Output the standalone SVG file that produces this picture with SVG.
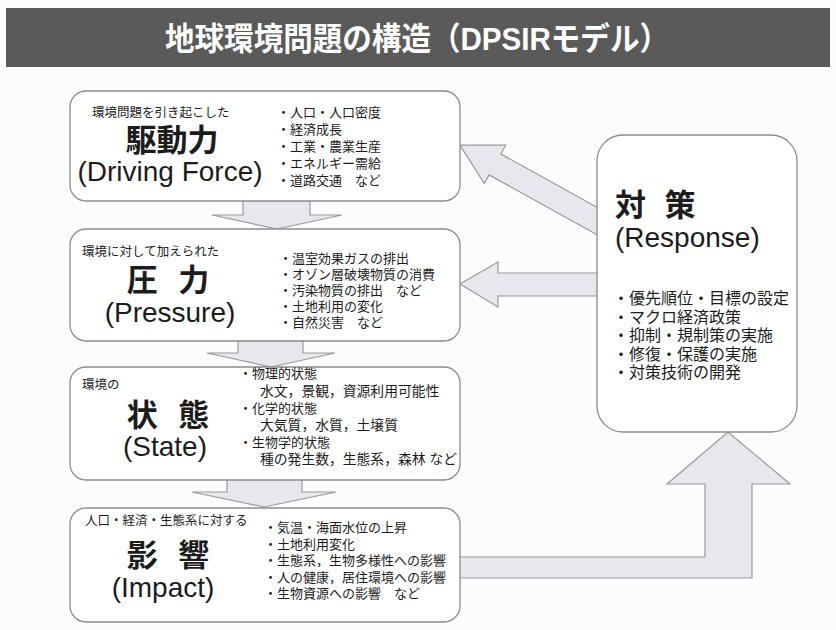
<svg xmlns="http://www.w3.org/2000/svg" width="836" height="630" viewBox="0 0 836 630">
<style>
text{font-family:"Liberation Sans","Noto Sans CJK JP",sans-serif;fill:#1c1c1c}
.box{fill:#ffffff;stroke:#8c8c8c;stroke-width:1.3}
.arw{fill:#e7e7ee;stroke:#9a9a9a;stroke-width:1.2;stroke-linejoin:miter}
.small{font-size:12.5px}
.big{font-size:31px;font-weight:bold}
.en{font-size:28px}
.li{font-size:13px}
.li2{font-size:13.8px}
.rli{font-size:16px}
</style>
<rect x="0" y="0" width="836" height="630" fill="#fcfcfc"/>
<g id="title">
<rect x="6" y="8" width="824" height="59" fill="#5a5a5a"/>
<text x="165" y="50" textLength="504" lengthAdjust="spacingAndGlyphs" style="font-size:32px;font-weight:bold;fill:#ffffff">地球環境問題の構造（DPSIRモデル）</text>
</g>
<g id="connectors">
<path class="arw" d="M243,201 L243,215 L212,215 L277,229 L342,215 L310,215 L310,201"/>
<path class="arw" d="M238,341 L238,353 L207,353 L271,367 L335,353 L303,353 L303,341"/>
<path class="arw" d="M227,480 L227,492 L192,492 L264,507 L336,492 L302,492 L302,480"/>
<path class="arw" d="M597,207.3 L500.8,153.9 L505.6,145.2 L460,145 L484.3,183.6 L489.1,174.9 L597,234.8"/>
<path class="arw" d="M597,273 L498,273 L498,262 L460,284 L498,307 L498,296 L597,296"/>
<path class="arw" d="M460,557 L705,557 L705,484 L667,484 L728,432 L790,484 L752,484 L752,578 L460,578"/>
</g>
<g id="driving">
<rect class="box" x="70" y="91" width="390" height="110" rx="16"/>
<text class="small" x="92" y="117">環境問題を引き起こした</text>
<text class="big" x="172" y="151" text-anchor="middle">駆動力</text>
<text class="en" x="170" y="181" text-anchor="middle">(Driving Force)</text>
<text class="li" x="277" y="117">・人口・人口密度</text>
<text class="li" x="277" y="134">・経済成長</text>
<text class="li" x="277" y="151">・工業・農業生産</text>
<text class="li" x="277" y="168">・エネルギー需給</text>
<text class="li" x="277" y="185">・道路交通　など</text>
</g>
<g id="pressure">
<rect class="box" x="70" y="229" width="390" height="112" rx="16"/>
<text class="small" x="82" y="256">環境に対して加えられた</text>
<text class="big" x="168" y="291" text-anchor="middle" word-spacing="12">圧 力</text>
<text class="en" x="170" y="322" text-anchor="middle">(Pressure)</text>
<text class="li" x="279" y="263">・温室効果ガスの排出</text>
<text class="li" x="279" y="279">・オゾン層破壊物質の消費</text>
<text class="li" x="279" y="295">・汚染物質の排出　など</text>
<text class="li" x="279" y="311">・土地利用の変化</text>
<text class="li" x="279" y="327">・自然災害　など</text>
</g>
<g id="state">
<rect class="box" x="70" y="367" width="390" height="113" rx="16"/>
<text class="small" x="82" y="389">環境の</text>
<text class="big" x="168" y="426" text-anchor="middle" word-spacing="12">状 態</text>
<text class="en" x="165" y="456" text-anchor="middle">(State)</text>
<text class="li" x="239" y="378">・物理的状態</text>
<text class="li2" x="260" y="396">水文，景観，資源利用可能性</text>
<text class="li" x="239" y="413">・化学的状態</text>
<text class="li2" x="260" y="430">大気質，水質，土壌質</text>
<text class="li" x="239" y="447">・生物学的状態</text>
<text class="li2" x="260" y="464">種の発生数，生態系，森林 など</text>
</g>
<g id="impact">
<rect class="box" x="70" y="508" width="390" height="114" rx="16"/>
<text class="small" x="85" y="525">人口・経済・生態系に対する</text>
<text class="big" x="168" y="566" text-anchor="middle" word-spacing="12">影 響</text>
<text class="en" x="163" y="597" text-anchor="middle">(Impact)</text>
<text class="li" x="264" y="532">・気温・海面水位の上昇</text>
<text class="li" x="264" y="549">・土地利用変化</text>
<text class="li" x="264" y="565">・生態系，生物多様性への影響</text>
<text class="li" x="264" y="582">・人の健康，居住環境への影響</text>
<text class="li" x="264" y="598">・生物資源への影響　など</text>
</g>
<g id="response">
<rect class="box" x="597" y="135" width="200" height="297" rx="26"/>
<text class="big" x="615" y="216" word-spacing="10">対 策</text>
<text class="en" x="615" y="247">(Response)</text>
<text class="rli" x="613" y="304">・優先順位・目標の設定</text>
<text class="rli" x="613" y="323">・マクロ経済政策</text>
<text class="rli" x="613" y="341">・抑制・規制策の実施</text>
<text class="rli" x="613" y="360">・修復・保護の実施</text>
<text class="rli" x="613" y="378">・対策技術の開発</text>
</g>
</svg>
